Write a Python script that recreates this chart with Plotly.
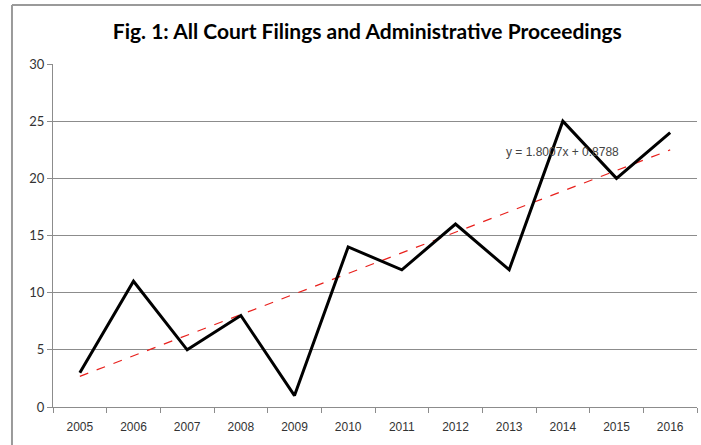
import numpy as np
import plotly.graph_objects as go

years = [2005, 2006, 2007, 2008, 2009, 2010, 2011, 2012, 2013, 2014, 2015, 2016]
filings = [3, 11, 5, 8, 1, 14, 12, 16, 12, 25, 20, 24]
title_text = "Fig. 1: All Court Filings and Administrative Proceedings"

# Linear trendline over the period index (1..12), as Excel does
idx = np.arange(1, len(years) + 1)
slope, intercept = np.polyfit(idx, filings, 1)
trend = slope * idx + intercept
trend_label = f"y = {slope:.4f}x + {intercept:.4f}"

fig = go.Figure()

fig.add_trace(go.Scatter(
    x=years, y=trend, mode="lines",
    line=dict(color="#e8201c", width=1.2, dash="dash"),
    hoverinfo="skip", showlegend=False,
))
fig.add_trace(go.Scatter(
    x=years, y=filings, mode="lines",
    line=dict(color="black", width=3),
    showlegend=False,
))

fig.add_annotation(
    x=2014.0, y=22.3, xref="x", yref="y", text=trend_label,
    showarrow=False, xanchor="center", yanchor="middle",
    font=dict(family="Liberation Sans Narrow, Liberation Sans, Arial", size=12, color="#444444"),
)

# outer chart frame: only left and top edges are visible in the crop
frame = dict(color="#9a9a9a", width=2)
fig.add_shape(type="line", xref="paper", yref="paper", x0=-0.0637, x1=-0.0637, y0=-0.2, y1=1.172, line=frame)
fig.add_shape(type="line", xref="paper", yref="paper", x0=-0.0637, x1=1.0062, y0=1.172, y1=1.172, line=frame)

fig.update_layout(
    width=701, height=445,
    margin=dict(l=53, r=4, t=64, b=38),
    paper_bgcolor="white", plot_bgcolor="white",
    title=dict(
        text="<b>" + title_text + "</b>",
        x=0.524, xanchor="center", y=0.928, yanchor="middle",
        font=dict(family="Lato, Open Sans, Arial", size=21, color="black"),
    ),
    font=dict(family="Liberation Sans Narrow, Liberation Sans, Arial", size=12, color="#333333"),
)

fig.update_xaxes(
    range=[2004.5, 2016.5], tickvals=years, ticktext=[str(y) for y in years],
    showgrid=False, zeroline=False, showline=True, linecolor="#8c8c8c", linewidth=1,
    ticks="", ticklabelstandoff=9,
    minor=dict(tick0=2004.5, dtick=1, ticks="outside", ticklen=5, tickcolor="#8c8c8c", showgrid=False),
    tickfont=dict(family="Liberation Sans Narrow, Liberation Sans, Arial", size=12, color="#333333"),
)
fig.update_yaxes(
    range=[0, 30], dtick=5, showgrid=True, gridcolor="#8c8c8c", gridwidth=1,
    zeroline=False, showline=True, linecolor="#8c8c8c", linewidth=1,
    ticks="outside", ticklen=5, tickcolor="#8c8c8c",
    tickfont=dict(family="Lato, Open Sans, Arial", size=13, color="#333333"),
)

# drop the default page margin and scrollbars so the figure sits at the window origin
fig.write_html("out.html", config={"displayModeBar": False},
               post_script="document.body.style.margin='0';document.body.style.overflow='hidden';"
                           "document.documentElement.style.overflow='hidden';")
